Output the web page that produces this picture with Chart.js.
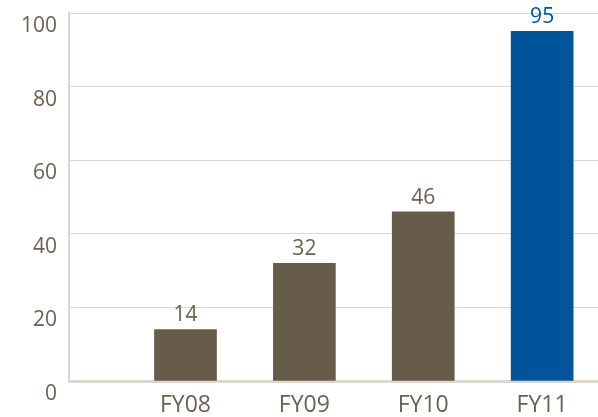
<!DOCTYPE html>
<html>
<head>
<meta charset="utf-8">
<script src="https://cdn.jsdelivr.net/npm/chart.js@4"></script>
<style>
  html, body { margin: 0; padding: 0; background: #fff; }
  #wrap { width: 598px; height: 417px; }
</style>
</head>
<body>
<div id="wrap"><canvas id="chart" width="598" height="417"></canvas></div>
<script>
// Données
const categories = ['FY08', 'FY09', 'FY10', 'FY11'];
const values = [14, 32, 46, 95];
const yTicks = [0, 20, 40, 60, 80, 100];

const brown = '#675c49';
const blue = '#00559a';
const textColor = '#6b6150';

// étiquettes de valeur au-dessus des barres
const valueLabels = {
    id: 'valueLabels',
    afterDatasetsDraw(chart) {
        const ctx = chart.ctx;
        const meta = chart.getDatasetMeta(0);
        ctx.save();
        ctx.font = '21px "Open Sans"';
        ctx.textAlign = 'center';
        ctx.textBaseline = 'alphabetic';
        meta.data.forEach((bar, i) => {
            ctx.fillStyle = i === values.length - 1 ? blue : textColor;
            ctx.fillText(String(values[i]), bar.x, bar.y - 8);
        });
        ctx.restore();
    }
};

new Chart(document.getElementById('chart'), {
    type: 'bar',
    data: {
        datasets: [{
            data: values.map((v, i) => ({ x: i + 1, y: v })),
            backgroundColor: values.map((v, i) => i === values.length - 1 ? blue : brown),
            barThickness: 62
        }]
    },
    options: {
        responsive: false,
        animation: false,
        layout: { padding: { top: 13, right: 0, left: 0, bottom: 0 } },
        plugins: { legend: { display: false }, tooltip: { enabled: false } },
        scales: {
            x: {
                type: 'linear',
                offset: false,
                min: 0.02,
                max: 4.47,
                afterBuildTicks(scale) {
                    scale.ticks = categories.map((c, i) => ({ value: i + 1 }));
                },
                afterFit(scale) { scale.height = 36; },
                grid: { display: false, drawTicks: false, offset: false },
                border: { display: true, color: '#dcd8d0', width: 3 },
                ticks: {
                    color: textColor,
                    font: { family: 'Open Sans', size: 23 },
                    padding: 11,
                    callback: (v) => categories[v - 1]
                }
            },
            y: {
                min: 0,
                max: 100,
                afterBuildTicks(scale) {
                    scale.ticks = yTicks.map(v => ({ value: v }));
                },
                afterFit(scale) {
                    scale.width = 69;
                    scale.paddingTop = 0;
                    scale.paddingBottom = 0;
                },
                grid: { color: '#d8d8d8', lineWidth: 1, drawTicks: false },
                border: { display: true, color: '#d9d5cc', width: 2 },
                ticks: {
                    color: textColor,
                    font: { family: 'Open Sans', size: 21 },
                    padding: 12,
                    labelOffset: 13
                }
            }
        }
    },
    plugins: [valueLabels]
});
</script>
</body>
</html>
